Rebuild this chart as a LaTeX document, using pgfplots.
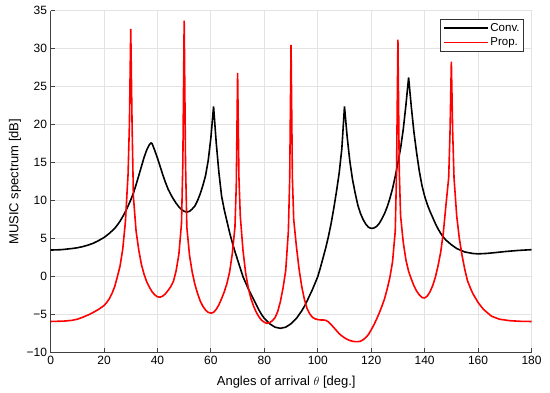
\documentclass[border=0pt]{standalone}
\usepackage{fontspec}
\setmainfont{Liberation Sans}
\usepackage{pgfplots}
\pgfplotsset{compat=1.18}
\pgfplotstableread{
t v
0 3.5
4 3.55
8 3.7
10 3.8
12 3.95
14 4.15
16 4.4
18 4.75
20 5.15
22 5.7
24 6.35
25 6.8
26 7.3
27 7.9
28 8.55
29 9.3
30 10.1
31 11.0
32 12.1
33 13.3
34 14.5
35 15.7
36 16.7
37 17.4
37.6 17.6
38 17.5
39 16.6
40 15.6
41 14.5
42 13.4
43 12.4
44 11.5
45 10.8
46 10.2
47 9.65
48 9.2
49 8.85
50 8.6
51 8.5
52 8.6
53 8.9
54 9.3
55 10.0
56 10.9
57 12.0
58 13.3
59 15.3
60 18.3
61 22.4
62 17.6
63 13.7
64 10.6
65 8.8
66 7.3
67 5.8
68 4.5
69 3.3
70 2.2
71 1.1
72 0.0
74 -1.6
76 -3.0
78 -4.4
79 -5.0
80 -5.5
82 -6.2
84 -6.65
86 -6.8
88 -6.65
90 -6.2
92 -5.5
93 -5.0
94 -4.5
95 -3.9
96 -3.2
98 -1.7
100 0.0
101 1.2
102 2.5
103 3.8
104 5.3
105 7.0
106 9.0
107 11.2
108 13.6
109 16.8
110 22.4
111 18.4
112 15.2
113 12.8
114 11.0
115 9.4
116 8.3
117 7.5
118 6.9
119 6.5
120 6.35
121 6.4
122 6.6
123 7.0
124 7.6
125 8.3
126 9.2
127 10.3
128 11.6
129 13.2
130 15.0
131 16.9
132 19.4
133 22.6
134 26.2
135 22.4
136 19.0
137 16.3
138 13.9
139 12.0
140 10.6
141 9.5
142 8.6
143 7.8
144 7.0
145 6.3
146 5.7
147 5.2
148 4.8
150 4.2
152 3.7
155 3.25
158 3.05
160 3.0
163 3.05
166 3.15
170 3.3
175 3.45
180 3.55
}\conv
\pgfplotstableread{
t v
0 -5.9
5 -5.85
8 -5.75
10 -5.6
12 -5.35
14 -5.05
16 -4.7
18 -4.3
20 -3.8
21 -3.4
22 -2.9
23 -2.2
24 -1.3
25 0.0
26 1.4
27 3.6
28 7.2
29 13.5
29.5 20
30 32.6
30.5 20
31 10.5
32 6.0
33 3.5
34 1.6
35 0.3
36 -0.7
37 -1.4
38 -2.0
39 -2.4
40 -2.65
41 -2.7
42 -2.55
43 -2.25
44 -1.8
45 -1.3
46 -0.6
47 0.8
48 2.9
49 7.0
49.5 15
50 33.7
50.5 15
51 6.5
52 2.8
53 0.6
54 -1.0
55 -2.2
56 -3.2
57 -3.9
58 -4.4
59 -4.7
60 -4.8
61 -4.7
62 -4.3
63 -3.7
64 -2.9
65 -2.0
66 -0.9
67 0.6
68 3.0
69 6.5
69.5 12
70 26.8
70.5 13
71 8.0
72 3.5
73 0.5
74 -1.5
75 -2.9
76 -3.9
77 -4.7
78 -5.3
79 -5.75
80 -6.0
81 -6.15
82 -6.05
83 -5.8
84 -5.4
85 -4.6
86 -3.3
87 -1.5
88 0.8
89 6.0
89.5 13
90 30.5
90.5 13
91 7.5
92 4.0
93 1.0
94 -1.3
95 -3.0
96 -4.2
97 -4.9
98 -5.35
99 -5.55
100 -5.65
101 -5.7
102 -5.7
103 -5.75
104 -5.95
105 -6.3
106 -6.7
107 -7.1
108 -7.5
109 -7.8
110 -8.05
111 -8.25
112 -8.4
113 -8.5
114 -8.55
115 -8.55
116 -8.5
117 -8.3
118 -8.0
119 -7.6
120 -7.0
121 -6.35
122 -5.6
123 -4.8
124 -3.9
125 -2.9
126 -1.6
127 -0.1
128 2.0
129 6.0
129.5 14
130 31.2
130.5 14
131 8.0
132 4.5
133 2.2
134 0.7
135 -0.3
136 -1.2
137 -1.9
138 -2.4
139 -2.75
140 -2.8
141 -2.55
142 -2.0
143 -1.2
144 -0.1
145 1.4
146 3.2
147 5.8
148 9.5
149 13
149.5 19
150 28.3
150.5 19
151 13
152 8.0
153 5.0
154 2.8
155 1.0
156 -0.5
157 -1.4
158 -2.2
160 -3.4
162 -4.3
165 -5.2
168 -5.6
172 -5.8
176 -5.88
180 -5.9
}\prop
\begin{document}
\begin{tikzpicture}
\begin{axis}[
  name=ax,
  scale only axis,
  width=481pt, height=342pt,
  xmin=0, xmax=180, ymin=-10, ymax=35,
  xtick={0,20,...,180},
  ytick={-10,-5,...,35},
  yticklabels={−10,−5,0,5,10,15,20,25,30,35},
  axis x line*=bottom, axis y line*=left,
  axis line style={black!75, line width=0.8pt},
  tick style={black!75, line width=0.8pt},
  tick align=inside,
  major tick length=4.5pt,
  grid=major,
  major grid style={gray!22, line width=0.8pt},
  ticklabel style={font=\fontsize{12}{14}\selectfont},
  /pgf/number format/assume math mode=true,
  xlabel={Angles of arrival $\theta$ [deg.]},
  ylabel={MUSIC spectrum [dB]},
  label style={font=\fontsize{13}{15}\selectfont},
  xlabel style={at={(axis description cs:0.49,-0.0857)}, anchor=center},
  ylabel style={at={(axis description cs:-0.074,0.5)}, anchor=center},
  legend cell align=left,
  legend style={at={(1,1)}, anchor=north east, xshift=-7.5pt, yshift=-8.3pt,
    draw=black!80, line width=0.8pt, font=\fontsize{11.5}{13}\selectfont,
    inner xsep=2pt, inner ysep=2pt, row sep=1pt},
  legend image code/.code={\draw[#1, line width=1.6pt] (0pt,0pt) -- (44pt,0pt);},
]
\addplot[black, line width=1.6pt] table[x=t, y=v] {\conv};
\addlegendentry{Conv.}
\addplot[red, line width=1.6pt] table[x=t, y=v] {\prop};
\addlegendentry{Prop.}
\end{axis}
\pgfresetboundingbox
\path ([xshift=-50.6pt, yshift=-40.3pt]ax.south west) rectangle ([xshift=18.5pt, yshift=10.7pt]ax.north east);
\end{tikzpicture}
\end{document}
